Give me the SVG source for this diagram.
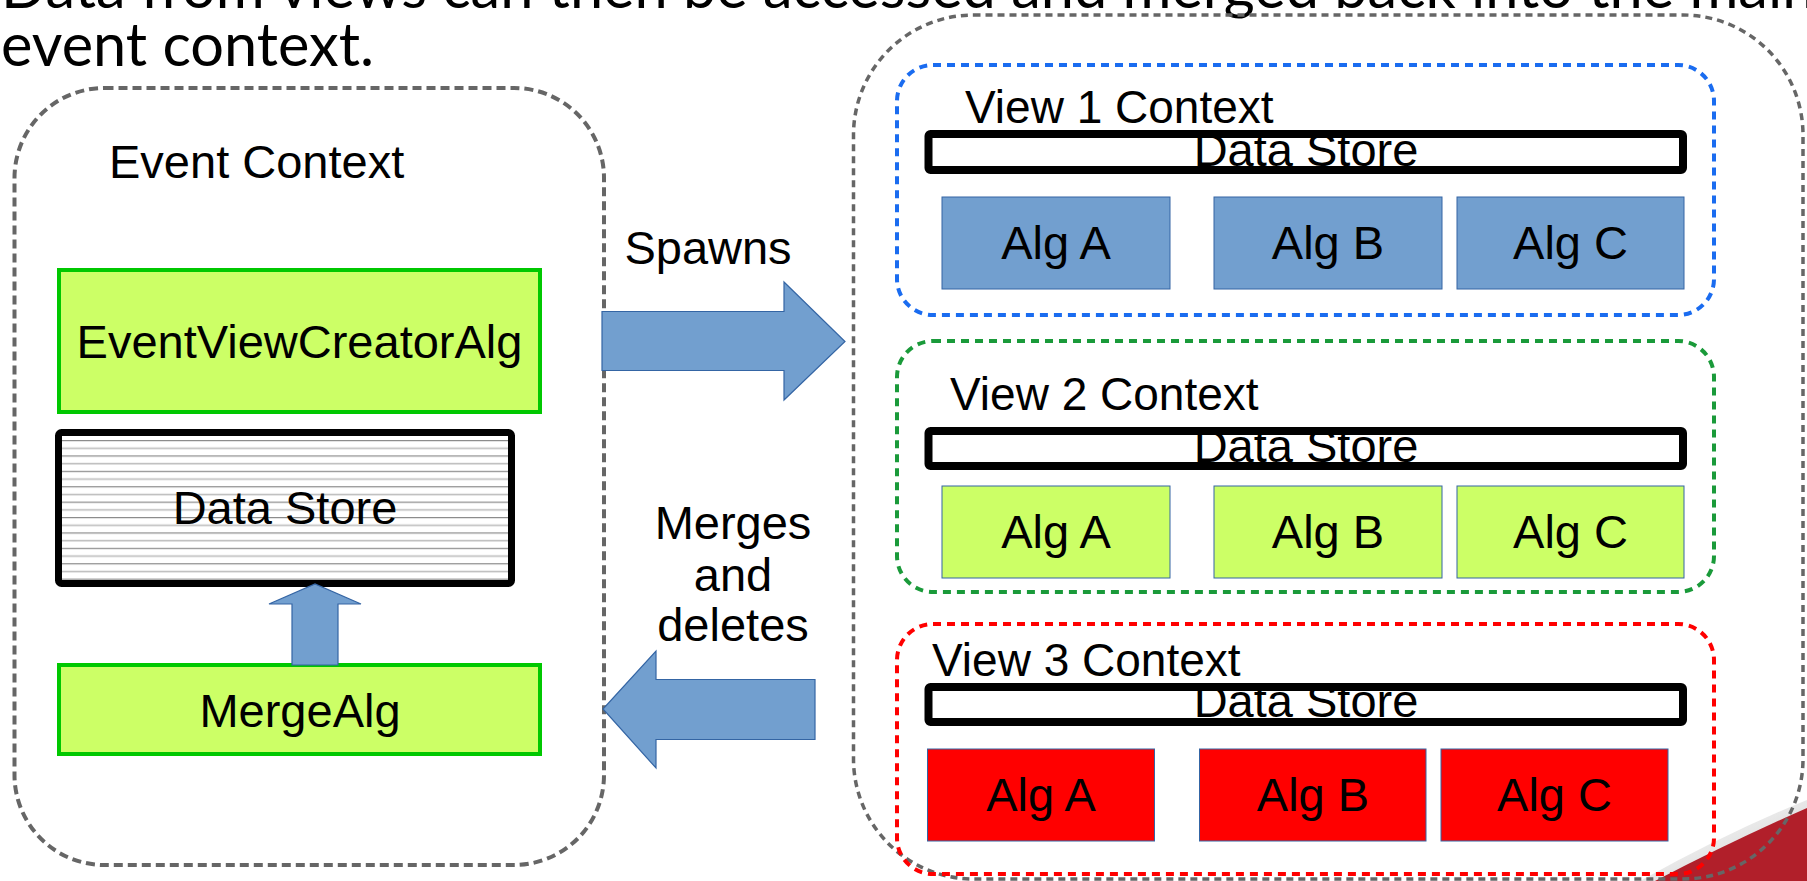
<svg xmlns="http://www.w3.org/2000/svg" width="1807" height="881" viewBox="0 0 1807 881">
  <style>
    .title { font-family: Lato, "Open Sans", sans-serif; font-size: 59.5px; fill: #000; }
    .lbl { font-family: "Liberation Sans", Arial, sans-serif; font-size: 47px; fill: #000; }
    .vlbl { font-family: "Liberation Sans", Arial, sans-serif; font-size: 46px; fill: #000; }
    .mid { text-anchor: middle; }
    .outer { fill: none; stroke: #666666; stroke-width: 4; stroke-dasharray: 9 5; }
    .outer2 { fill: none; stroke: #666666; stroke-width: 3.5; stroke-dasharray: 7 5; }
    .view { fill: none; stroke-width: 4; stroke-dasharray: 8 6; }
    .alg-green { fill: #ccff66; stroke: #00c800; stroke-width: 4; }
    .store-fill { fill: #ffffff; }
    .store-edge { fill: none; stroke: #000; stroke-width: 8; }
    .blue { fill: #729fcf; stroke: #3465a4; stroke-width: 1; }
    .lime { fill: #ccff66; stroke: #3465a4; stroke-width: 1; }
    .red { fill: #ff0000; stroke: #3465a4; stroke-width: 1; }
    .arrow { fill: #729fcf; stroke: #3465a4; stroke-width: 1.2; }
  </style>
  <defs>
    <pattern id="hatch" x="0" y="440" width="20" height="15.4" patternUnits="userSpaceOnUse">
      <rect width="20" height="15.4" fill="#ffffff"/>
      <line x1="0" y1="0.6" x2="20" y2="0.6" stroke="#8a8a8a" stroke-width="1.2"/>
      <line x1="0" y1="8.3" x2="20" y2="8.3" stroke="#bdbdbd" stroke-width="1.6"/>
    </pattern>
    <linearGradient id="swoosh-edge" x1="0" y1="0" x2="1" y2="1">
      <stop offset="0" stop-color="#c9c9c9" stop-opacity="0"/>
      <stop offset="1" stop-color="#9a9a9a" stop-opacity="0.6"/>
    </linearGradient>
  </defs>

  <rect width="1807" height="881" fill="#ffffff"/>

  <!-- corner decoration of the slide -->
  <path d="M1807 800 Q1728 832 1640 881 L1807 881 Z" fill="url(#swoosh-edge)"/>
  <path d="M1807 808 Q1730 842 1655 881 L1807 881 Z" fill="#b11f2a"/>

  <!-- slide caption -->
  <g id="caption">
    <text class="title" x="1" y="8">Data from views can then be accessed and merged back into the main</text>
    <text class="title" x="1" y="66">event context.</text>
  </g>

  <!-- main event context -->
  <g id="event-context">
    <rect class="outer" x="14.5" y="88" width="589.5" height="777" rx="90" ry="90"/>
    <text class="lbl" x="109" y="178">Event Context</text>
  </g>

  <g id="event-view-creator">
    <rect class="alg-green" x="59" y="270" width="481" height="142"/>
    <text class="lbl mid" x="299.5" y="358">EventViewCreatorAlg</text>
  </g>

  <g id="event-data-store">
    <rect x="58.5" y="432.5" width="453" height="151" fill="url(#hatch)"/>
    <rect x="58.5" y="432.5" width="453" height="151" rx="3" fill="none" stroke="#000" stroke-width="7"/>
    <text class="lbl mid" x="285" y="524">Data Store</text>
  </g>

  <g id="merge-alg">
    <rect class="alg-green" x="59" y="665" width="481" height="89"/>
    <text class="lbl mid" x="300" y="727">MergeAlg</text>
  </g>

  <!-- labels beside the block arrows -->
  <g id="spawns-label">
    <text class="lbl mid" x="708" y="264">Spawns</text>
  </g>
  <g id="merges-label">
    <text class="lbl mid" x="733" y="539">Merges</text>
    <text class="lbl mid" x="733" y="591">and</text>
    <text class="lbl mid" x="733" y="641">deletes</text>
  </g>

  <!-- container of the views -->
  <g id="views-container">
    <rect class="outer2" x="853.5" y="15" width="949.5" height="864" rx="120" ry="120"/>
  </g>

  <!-- view 1 -->
  <g id="view1">
    <rect class="view" x="897" y="65" width="817" height="250" rx="36" ry="36" stroke="#1a6cf0"/>
    <text class="vlbl" x="965" y="123">View 1 Context</text>
    <rect class="store-fill" x="928.5" y="134" width="754.5" height="36"/>
    <text class="lbl mid" x="1306" y="166">Data Store</text>
    <rect class="store-edge" x="928.5" y="134" width="754.5" height="36" rx="2"/>
    <rect class="blue" x="942" y="197" width="228" height="92"/>
    <text class="lbl mid" x="1056" y="259">Alg A</text>
    <rect class="blue" x="1214" y="197" width="228" height="92"/>
    <text class="lbl mid" x="1328" y="259">Alg B</text>
    <rect class="blue" x="1457" y="197" width="227" height="92"/>
    <text class="lbl mid" x="1570.5" y="259">Alg C</text>
  </g>

  <!-- view 2 -->
  <g id="view2">
    <rect class="view" x="897" y="341" width="817" height="251" rx="36" ry="36" stroke="#1a9a3a"/>
    <text class="vlbl" x="950" y="410">View 2 Context</text>
    <rect class="store-fill" x="928.5" y="431" width="754.5" height="35"/>
    <text class="lbl mid" x="1306" y="462">Data Store</text>
    <rect class="store-edge" x="928.5" y="431" width="754.5" height="35" rx="2"/>
    <rect class="lime" x="942" y="486" width="228" height="92"/>
    <text class="lbl mid" x="1056" y="548">Alg A</text>
    <rect class="lime" x="1214" y="486" width="228" height="92"/>
    <text class="lbl mid" x="1328" y="548">Alg B</text>
    <rect class="lime" x="1457" y="486" width="227" height="92"/>
    <text class="lbl mid" x="1570.5" y="548">Alg C</text>
  </g>

  <!-- view 3 -->
  <g id="view3">
    <rect class="view" x="897" y="624" width="817" height="250" rx="36" ry="36" stroke="#ff0000"/>
    <text class="vlbl" x="932" y="676">View 3 Context</text>
    <rect class="store-fill" x="928.5" y="687" width="754.5" height="35"/>
    <text class="lbl mid" x="1306" y="717">Data Store</text>
    <rect class="store-edge" x="928.5" y="687" width="754.5" height="35" rx="2"/>
    <rect class="red" x="927.5" y="749" width="227" height="92"/>
    <text class="lbl mid" x="1041" y="811">Alg A</text>
    <rect class="red" x="1199.5" y="749" width="226.5" height="92"/>
    <text class="lbl mid" x="1313" y="811">Alg B</text>
    <rect class="red" x="1441" y="749" width="227" height="92"/>
    <text class="lbl mid" x="1554.5" y="811">Alg C</text>
  </g>

  <!-- block arrows -->
  <g id="connectors">
    <path id="spawn-arrow" class="arrow" d="M602 311.5 H784 V282 L845 341.5 L784 400 V370.5 H602 Z"/>
    <path id="merge-arrow" class="arrow" d="M815 679.5 H656 V651 L603 709 L656 768 V739.5 H815 Z"/>
    <path id="store-arrow" class="arrow" d="M292 665 V604 H269 L315 584 L361 604 H338 V665 Z"/>
  </g>
</svg>
